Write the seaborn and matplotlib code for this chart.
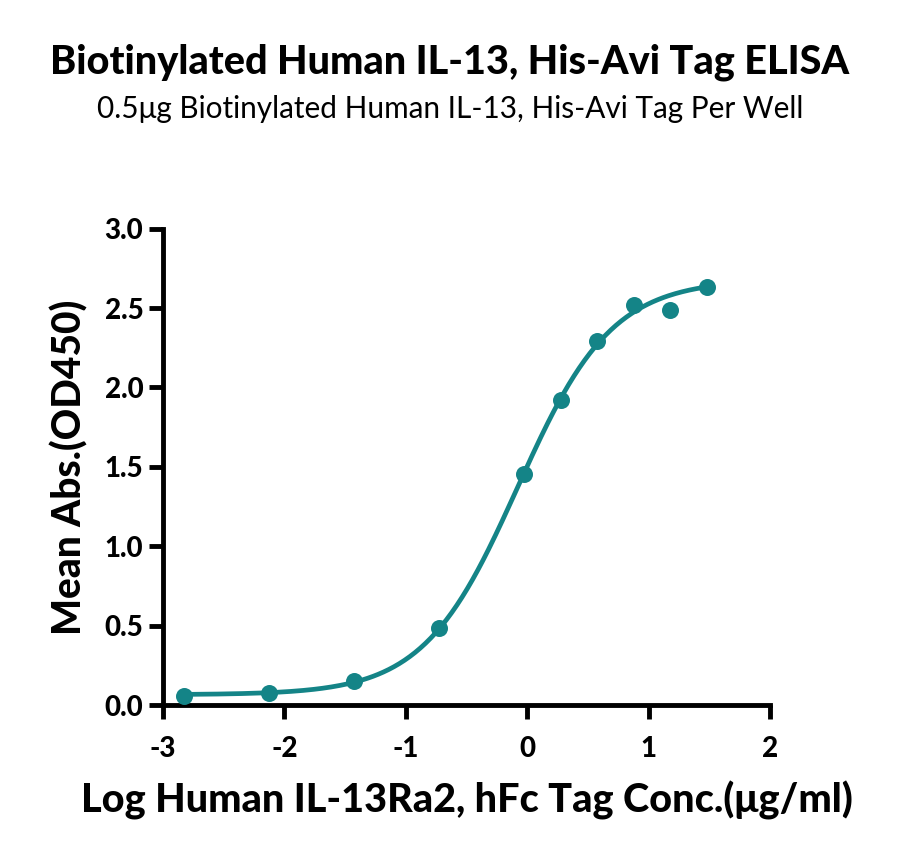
import numpy as np
import matplotlib
matplotlib.use("Agg")
import matplotlib.pyplot as plt
import seaborn as sns

# log concentration (ug/ml) and mean OD450
log_conc = [-2.824, -2.125, -1.426, -0.727, -0.028, 0.273, 0.574, 0.875, 1.176, 1.477]
od450 = [0.06, 0.075, 0.15, 0.485, 1.455, 1.92, 2.29, 2.52, 2.49, 2.63]

# 4PL fit parameters
fit_bottom = 0.065
fit_top = 2.68
fit_log_ec50 = -0.08
fit_hill = 1.12

x_ticks = [-3, -2, -1, 0, 1, 2]
y_ticks = [0.0, 0.5, 1.0, 1.5, 2.0, 2.5, 3.0]

teal = "#148487"

sns.set_style("ticks")
plt.rcParams["font.family"] = ["Lato", "DejaVu Sans"]
plt.rcParams["text.color"] = "black"
plt.rcParams["axes.labelcolor"] = "black"

fig = plt.figure(figsize=(9, 8.63), dpi=100)
ax = fig.add_axes([0.181, 0.183, 0.675, 0.552])

xs = np.linspace(log_conc[0], log_conc[-1], 300)
ys = fit_bottom + (fit_top - fit_bottom) / (1 + 10 ** ((fit_log_ec50 - xs) * fit_hill))
sns.lineplot(x=xs, y=ys, ax=ax, color=teal, linewidth=3.4)
sns.scatterplot(x=log_conc, y=od450, ax=ax, color=teal, s=150, edgecolor=teal, linewidth=0, zorder=3)

ax.set_xlim(-3, 2)
ax.set_ylim(0, 3)
ax.set_xticks(x_ticks)
ax.set_xticklabels([str(t) for t in x_ticks])
ax.set_yticks(y_ticks)
ax.set_yticklabels([f"{t:.1f}" for t in y_ticks])
for lab in ax.get_xticklabels() + ax.get_yticklabels():
    lab.set_fontweight("black")
    lab.set_fontsize(20)
    lab.set_color("black")
ax.tick_params(axis="both", length=10, width=3.5, direction="out", color="black")
ax.tick_params(axis="x", pad=12)
ax.tick_params(axis="y", pad=4)
for side in ["left", "bottom"]:
    ax.spines[side].set_linewidth(3.5)
    ax.spines[side].set_color("black")
sns.despine(ax=ax)

ax.set_xlabel("Log Human IL-13Ra2, hFc Tag Conc.(\u03bcg/ml)", fontsize=28.5, fontweight="black", labelpad=14)
ax.set_ylabel("Mean Abs.(OD450)", fontsize=28, fontweight="black", labelpad=12)

fig.text(0.5, 0.928, "Biotinylated Human IL-13, His-Avi Tag ELISA", ha="center", va="center",
         fontsize=28.5, fontweight="black")
fig.text(0.5, 0.874, "0.5\u03bcg Biotinylated Human IL-13, His-Avi Tag Per Well", ha="center", va="center",
         fontsize=21.4)

fig.savefig("out.png", dpi=100)
